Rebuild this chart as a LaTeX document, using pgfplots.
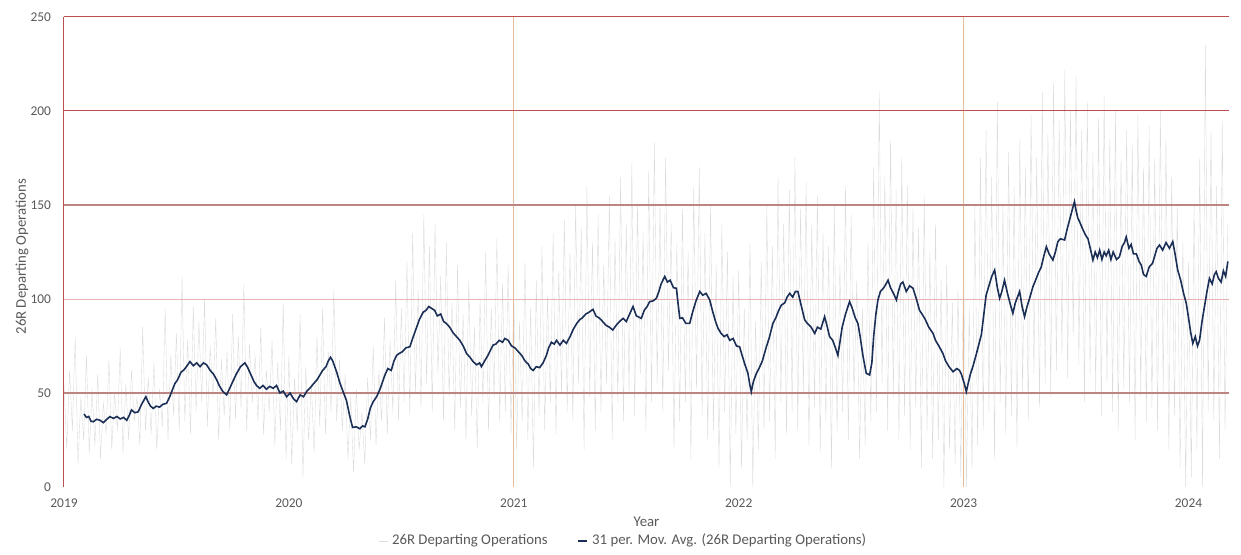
\documentclass[border=0pt]{standalone}
\usepackage{pgfplots}
\pgfplotsset{compat=1.18}
\usepackage{pgfplotstable}
\usetikzlibrary{calc}
\usepackage{fontspec}
\setmainfont{Carlito}

\definecolor{maline}{HTML}{1B2F56}
\definecolor{gridred}{HTML}{B9504F}
\definecolor{gridbrown}{HTML}{BA8583}
\definecolor{gridpink}{HTML}{E5B3B1}
\definecolor{gridtan}{HTML}{E5BD9C}
\definecolor{txt}{HTML}{595959}
\definecolor{daily}{HTML}{DCDCDC}

% daily departures, one row every 0.0125 year from 1 Jan 2019
\pgfplotstableread{
ops
55
20
62
30
80
12
48
25
70
18
52
22
60
15
45
28
68
20
50
30
74
18
55
25
62
35
48
22
85
30
58
28
66
20
52
32
95
25
70
38
82
30
112
35
78
28
96
40
88
45
100
32
75
48
90
25
68
38
72
30
92
36
80
42
108
30
76
45
70
35
85
28
62
40
78
22
66
30
98
15
70
12
58
30
92
5
64
25
55
18
80
32
95
28
72
40
105
35
68
30
60
15
48
8
52
20
40
12
58
25
75
22
62
35
90
28
78
40
110
35
95
45
120
38
135
50
105
42
145
55
128
40
140
60
112
35
130
48
98
30
118
42
92
25
110
38
85
20
100
45
125
30
95
48
132
35
108
40
118
28
105
20
88
35
120
25
95
10
110
38
128
30
102
45
135
28
115
50
142
40
125
35
150
55
138
20
160
48
130
30
145
40
118
55
155
25
132
45
165
35
140
50
172
38
150
60
135
30
168
45
183
55
150
40
175
62
140
20
130
35
148
45
125
15
160
52
170
38
135
25
150
30
118
10
140
40
125
0
112
28
115
10
95
25
130
0
88
20
120
30
150
35
128
15
165
45
140
28
158
40
175
30
148
50
162
22
140
42
155
18
135
35
128
10
150
30
118
40
160
25
145
48
110
15
95
22
130
35
170
40
210
55
165
30
185
48
158
25
175
38
160
20
148
42
138
10
155
30
125
15
140
25
110
0
118
20
98
12
105
5
120
0
95
10
150
22
175
30
190
40
165
15
205
45
150
28
178
38
160
20
185
50
170
35
198
60
175
42
210
55
188
48
215
62
195
70
222
58
200
80
218
65
190
45
205
60
178
50
196
38
208
55
185
40
200
30
175
52
190
45
182
25
198
48
170
35
192
42
175
30
200
50
185
20
165
38
150
10
130
0
120
5
150
20
175
0
235
40
190
35
160
15
195
30
140
}\dailyops

\begin{document}
\begin{tikzpicture}
\begin{axis}[
  name=main,
  scale only axis,
  width=582.5pt, height=235pt,
  xmin=2019, xmax=2024.18,
  ymin=0, ymax=250,
  xtick={2019,2020,2021,2022,2023,2024},
  xticklabels={2019,2020,2021,2022,2023,2024},
  ytick={0,50,100,150,200,250},
  yticklabels={0,50,100,150,200,250},
  axis line style={draw=none},
  tick style={draw=none},
  tick label style={font=\fontsize{6.7}{8}\selectfont, text=txt},
  xticklabel style={yshift=-2.5pt},
  yticklabel style={xshift=-3pt},
  xlabel={Year},
  ylabel={26R Departing Operations},
  label style={font=\fontsize{7.4}{8.5}\selectfont, text=txt},
  xlabel style={at={(axis description cs:0.5,-0.0745)}, anchor=center},
  ylabel style={at={(axis description cs:-0.036,0.49)}, anchor=center},
  legend columns=2,
  legend style={
    at={(axis description cs:0.481,-0.115)}, anchor=center,
    draw=none, fill=none,
    font=\fontsize{7.4}{8.5}\selectfont, text=txt,
    /tikz/every even column/.append style={column sep=13pt},
    /tikz/every odd column/.append style={column sep=0pt},
    inner sep=0pt,
  },
  legend cell align=left,
  legend image code/.code={\draw[#1] (0pt,0pt) -- (4.5pt,0pt);},
  clip=false,
]
% daily values
\addplot[daily, line width=0.2pt]
  table[x expr={2019+\coordindex*0.0125}, y=ops] {\dailyops};
\addlegendentry{26R Departing Operations}

% grid
\draw[gridtan, line width=0.5pt] (axis cs:2021,0) -- (axis cs:2021,250);
\draw[gridtan, line width=0.5pt] (axis cs:2023,0) -- (axis cs:2023,250);
\draw[gridpink, line width=0.45pt] (rel axis cs:0,0.4) -- (rel axis cs:1,0.4);
\draw[gridbrown, line width=0.9pt] (rel axis cs:0,0.2) -- (rel axis cs:1,0.2);
\draw[gridbrown, line width=0.9pt] (rel axis cs:0,0.6) -- (rel axis cs:1,0.6);
\draw[gridred, line width=0.5pt] (rel axis cs:0,0.8) -- (rel axis cs:1,0.8);
\draw[gridred, line width=0.5pt] (rel axis cs:0,1) -- (rel axis cs:1,1);
\draw[gridred, line width=0.5pt] (rel axis cs:0,0) -- (rel axis cs:0,1);

% 31-period moving average
\addplot[maline, line width=0.8pt] coordinates {
(2019.089,38.8)(2019.10,37)(2019.11,37.5)(2019.12,35)(2019.13,34.7)(2019.145,36)(2019.16,35.5)(2019.175,34.2)(2019.19,36)(2019.204,37.4)(2019.22,36.5)(2019.235,37.5)(2019.25,36.2)(2019.265,37)(2019.279,35.5)(2019.29,38)(2019.30,41)(2019.315,39.5)(2019.33,40)(2019.345,44)(2019.364,48)(2019.375,45)(2019.385,43)(2019.397,41.8)(2019.41,43)(2019.425,42.5)(2019.44,44)(2019.456,44.5)(2019.47,48)(2019.483,52)(2019.493,55)(2019.505,57)(2019.52,61)(2019.535,62.5)(2019.55,65)(2019.56,66.7)(2019.575,64.5)(2019.59,66)(2019.605,64)(2019.62,66)(2019.634,65)(2019.65,62)(2019.665,60)(2019.679,57)(2019.69,54)(2019.705,51)(2019.723,49)(2019.735,52)(2019.75,56)(2019.768,60.5)(2019.785,64)(2019.804,66)(2019.815,64)(2019.83,60)(2019.845,56)(2019.856,54)(2019.87,52.5)(2019.885,54)(2019.90,52)(2019.915,53.5)(2019.93,52.5)(2019.945,54)(2019.96,50)(2019.975,51)(2019.99,48)(2020.005,50)(2020.02,47)(2020.034,45.4)(2020.05,49)(2020.065,48)(2020.08,51)(2020.093,52.5)(2020.11,55)(2020.125,57)(2020.138,59.6)(2020.15,62)(2020.165,64)(2020.175,67)(2020.185,69)(2020.195,67)(2020.212,61.3)(2020.225,56)(2020.24,51)(2020.256,46)(2020.27,38)(2020.283,31.7)(2020.30,32)(2020.315,31)(2020.328,32.5)(2020.338,32)(2020.35,36)(2020.362,42)(2020.375,45.4)(2020.39,48)(2020.405,52)(2020.427,59.6)(2020.44,63)(2020.455,62)(2020.467,67)(2020.479,70)(2020.49,71)(2020.505,72)(2020.52,74)(2020.538,74.6)(2020.55,79)(2020.565,84)(2020.58,89)(2020.597,93)(2020.61,94)(2020.622,96)(2020.634,95)(2020.648,94)(2020.66,91)(2020.675,92)(2020.688,88)(2020.70,87)(2020.715,85)(2020.73,82)(2020.745,80)(2020.76,78)(2020.775,75)(2020.79,71)(2020.805,69)(2020.819,66.7)(2020.835,65)(2020.848,66)(2020.856,64)(2020.87,67)(2020.885,70)(2020.897,73)(2020.908,75.5)(2020.92,76)(2020.935,78)(2020.95,77)(2020.96,79)(2020.975,78)(2020.99,75)(2021.005,74)(2021.02,72)(2021.035,70)(2021.05,67)(2021.064,65.4)(2021.075,63)(2021.086,62)(2021.10,64)(2021.115,63.5)(2021.13,66)(2021.145,70)(2021.155,74)(2021.167,77)(2021.18,76)(2021.19,78)(2021.205,75.5)(2021.22,78)(2021.234,76.4)(2021.25,80)(2021.265,84)(2021.28,87)(2021.293,89)(2021.305,90)(2021.32,92)(2021.335,93)(2021.352,94.5)(2021.365,91)(2021.382,89.7)(2021.395,88)(2021.41,86)(2021.425,85)(2021.44,83.5)(2021.455,86)(2021.47,88)(2021.486,89.7)(2021.50,88)(2021.515,92)(2021.53,96)(2021.545,91)(2021.567,89.7)(2021.58,94)(2021.593,96)(2021.604,98.6)(2021.62,99)(2021.634,100.4)(2021.645,104)(2021.655,108)(2021.671,112)(2021.683,109)(2021.695,110)(2021.71,106)(2021.723,105.7)(2021.73,98)(2021.738,89.7)(2021.75,90)(2021.765,87)(2021.782,87)(2021.795,93)(2021.81,99)(2021.827,104)(2021.84,102)(2021.855,103)(2021.871,99.5)(2021.885,93)(2021.897,88)(2021.908,84.4)(2021.92,82)(2021.935,80)(2021.948,81)(2021.96,78)(2021.975,79)(2021.99,75)(2022.004,74.6)(2022.015,70)(2022.028,65)(2022.041,60.5)(2022.05,54)(2022.056,50.7)(2022.065,56)(2022.079,60.5)(2022.09,63)(2022.105,67)(2022.123,74.6)(2022.135,79)(2022.152,87)(2022.165,90)(2022.178,94)(2022.19,96.8)(2022.205,98)(2022.215,101)(2022.227,103)(2022.24,101)(2022.252,104)(2022.263,104)(2022.275,98)(2022.283,94)(2022.293,89)(2022.305,87)(2022.322,85)(2022.338,81.7)(2022.35,85)(2022.365,84)(2022.382,90.6)(2022.392,86)(2022.404,80)(2022.418,78)(2022.43,74)(2022.441,70)(2022.45,77)(2022.46,85)(2022.475,92)(2022.493,98.6)(2022.505,95)(2022.518,90)(2022.53,87)(2022.54,80)(2022.552,70)(2022.567,60.5)(2022.582,59.6)(2022.592,66)(2022.60,80)(2022.61,92)(2022.619,99.5)(2022.63,104)(2022.645,106)(2022.655,108)(2022.664,110)(2022.675,106)(2022.688,103)(2022.701,99.5)(2022.71,104)(2022.72,108)(2022.73,109)(2022.745,104)(2022.76,107)(2022.775,105.7)(2022.79,100)(2022.804,94)(2022.815,92)(2022.83,89)(2022.845,85)(2022.864,81.7)(2022.875,78)(2022.89,75)(2022.908,71)(2022.92,67)(2022.935,64)(2022.953,61.3)(2022.97,63)(2022.982,62)(2022.99,60)(2023.003,55)(2023.012,50.7)(2023.02,55)(2023.03,60)(2023.041,64)(2023.055,70)(2023.068,76)(2023.079,81)(2023.09,92)(2023.10,102)(2023.115,108)(2023.125,112)(2023.138,115.4)(2023.15,106)(2023.16,100.4)(2023.17,104)(2023.182,110)(2023.195,103)(2023.208,97)(2023.219,92.4)(2023.23,98)(2023.249,104)(2023.26,96)(2023.271,90.6)(2023.282,96)(2023.295,101)(2023.308,106.5)(2023.32,110)(2023.333,114)(2023.345,117)(2023.357,123)(2023.368,127.8)(2023.38,124)(2023.397,120.7)(2023.408,125)(2023.419,130.5)(2023.43,132)(2023.449,131.4)(2023.46,137)(2023.471,142)(2023.482,147)(2023.493,151.8)(2023.5,147)(2023.508,143)(2023.516,141)(2023.53,137)(2023.542,134)(2023.553,132)(2023.565,126)(2023.575,120.7)(2023.585,125)(2023.595,122)(2023.605,126)(2023.615,121)(2023.625,125)(2023.634,123)(2023.645,126)(2023.655,121)(2023.665,125)(2023.68,121)(2023.693,122.5)(2023.705,128)(2023.715,130)(2023.723,133)(2023.735,127)(2023.745,129)(2023.755,124)(2023.768,124)(2023.78,120)(2023.79,118)(2023.80,113)(2023.812,112)(2023.825,117)(2023.84,119)(2023.85,123)(2023.86,127)(2023.871,128.7)(2023.885,126)(2023.90,130)(2023.915,127)(2023.93,130.5)(2023.94,124)(2023.952,115.4)(2023.965,110)(2023.978,103)(2023.99,97.7)(2024.0,90)(2024.01,82)(2024.019,76.4)(2024.03,80)(2024.04,75)(2024.049,78)(2024.06,88)(2024.071,96)(2024.082,104)(2024.093,111)(2024.105,108)(2024.115,113)(2024.123,114.5)(2024.133,111)(2024.145,109)(2024.155,115)(2024.165,112)(2024.175,120)
};
\addlegendentry{31 per. Mov. Avg. (26R Departing Operations)}
\end{axis}
\pgfresetboundingbox
\path[use as bounding box] ($(main.south west)+(-32pt,-34pt)$) rectangle ($(main.north east)+(6pt,8.5pt)$);
\end{tikzpicture}
\end{document}
